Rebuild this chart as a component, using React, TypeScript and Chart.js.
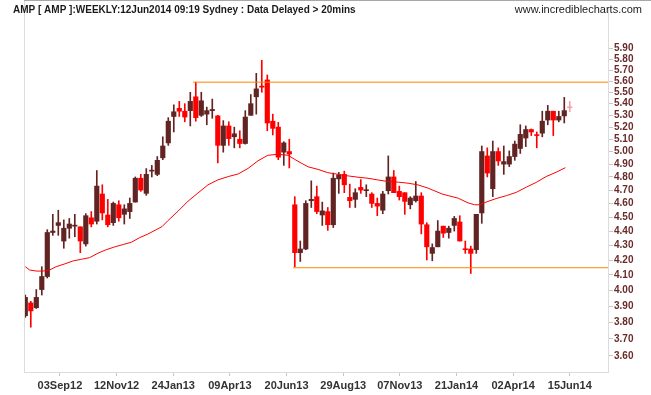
import React, { useEffect, useRef } from "react";
import { Chart, registerables } from "chart.js";
Chart.register(...registerables);

const TITLE = "AMP [ AMP ]:WEEKLY:12Jun2014 09:19 Sydney : Data Delayed > 20mins";
const SITE = "www.incrediblecharts.com";

const opens = [3.84, 3.92, 3.89, 4.005, 4.09, 4.39, 4.44, 4.33, 4.42, 4.435, 4.43, 4.31, 4.495, 4.47, 4.67, 4.515, 4.46, 4.59, 4.52, 4.54,
  4.61, 4.79, 4.675, 4.845, 4.82, 4.95, 5.07, 5.29, 5.36, 5.335, 5.34, 5.46, 5.30, 5.31, 5.34, 5.295, 5.05, 5.21, 5.12, 5.10,
  5.065, 5.30, 5.46, 5.555, 5.61, 5.25, 5.20, 4.995, 5.00, 4.59, 4.25, 4.275, 4.62, 4.65, 4.515, 4.54, 4.445, 4.785, 4.82, 4.645,
  4.63, 4.72, 4.695, 4.67, 4.60, 4.55, 4.695, 4.80, 4.69, 4.68, 4.59, 4.62, 4.655, 4.445, 4.245, 4.29, 4.435, 4.39, 4.44, 4.465,
  4.275, 4.275, 4.27, 4.53, 4.965, 4.71, 5.00, 4.90, 4.90, 4.96, 5.025, 5.11, 5.18, 5.135, 5.15, 5.26, 5.335, 5.26, 5.295, 5.37];
const highs = [3.97, 3.93, 4.005, 4.155, 4.41, 4.52, 4.55, 4.48, 4.49, 4.52, 4.43, 4.525, 4.54, 4.85, 4.74, 4.63, 4.61, 4.62, 4.59, 4.64,
  4.80, 4.82, 4.865, 4.89, 4.96, 5.12, 5.28, 5.39, 5.42, 5.40, 5.50, 5.59, 5.50, 5.37, 5.44, 5.30, 5.255, 5.245, 5.20, 5.17,
  5.34, 5.48, 5.67, 5.79, 5.655, 5.31, 5.24, 5.08, 5.10, 4.65, 4.33, 4.62, 4.77, 4.73, 4.61, 4.57, 4.83, 4.835, 4.845, 4.745,
  4.71, 4.78, 4.74, 4.68, 4.64, 4.69, 4.965, 4.85, 4.73, 4.68, 4.65, 4.765, 4.68, 4.46, 4.31, 4.475, 4.435, 4.435, 4.505, 4.51,
  4.33, 4.295, 4.52, 5.045, 5.03, 5.085, 5.03, 5.045, 5.005, 5.085, 5.22, 5.21, 5.185, 5.16, 5.335, 5.385, 5.335, 5.335, 5.455, 5.42];
const lows = [3.83, 3.77, 3.885, 3.97, 4.08, 4.37, 4.37, 4.28, 4.35, 4.36, 4.25, 4.295, 4.43, 4.45, 4.48, 4.43, 4.44, 4.47, 4.45, 4.49,
  4.61, 4.69, 4.66, 4.80, 4.81, 4.935, 5.05, 5.16, 5.29, 5.245, 5.21, 5.25, 5.29, 5.22, 5.275, 4.91, 4.995, 5.05, 5.03, 5.03,
  5.06, 5.30, 5.31, 5.50, 5.17, 5.135, 4.935, 4.89, 4.87, 4.155, 4.19, 4.27, 4.57, 4.525, 4.44, 4.405, 4.425, 4.675, 4.68, 4.57,
  4.57, 4.675, 4.65, 4.57, 4.51, 4.525, 4.67, 4.68, 4.625, 4.52, 4.56, 4.61, 4.38, 4.20, 4.195, 4.29, 4.355, 4.35, 4.40, 4.33,
  4.245, 4.11, 4.245, 4.455, 4.80, 4.65, 4.89, 4.82, 4.88, 4.93, 4.985, 5.04, 5.13, 5.03, 5.12, 5.22, 5.13, 5.245, 5.235, 5.33];
const closes = [3.955, 3.87, 3.955, 4.09, 4.39, 4.40, 4.46, 4.42, 4.45, 4.44, 4.33, 4.51, 4.45, 4.73, 4.53, 4.445, 4.60, 4.495, 4.56, 4.60,
  4.79, 4.70, 4.82, 4.85, 4.93, 5.045, 5.25, 5.33, 5.335, 5.285, 5.42, 5.28, 5.425, 5.34, 5.35, 5.05, 5.21, 5.105, 5.145, 5.065,
  5.285, 5.40, 5.53, 5.545, 5.235, 5.19, 4.955, 5.07, 4.98, 4.25, 4.275, 4.60, 4.63, 4.54, 4.545, 4.445, 4.79, 4.815, 4.74, 4.62,
  4.68, 4.70, 4.70, 4.60, 4.58, 4.67, 4.80, 4.68, 4.65, 4.615, 4.64, 4.655, 4.45, 4.29, 4.285, 4.40, 4.385, 4.42, 4.49, 4.33,
  4.27, 4.245, 4.52, 5.00, 4.83, 5.00, 4.925, 4.92, 4.96, 5.06, 5.14, 5.18, 5.16, 5.13, 5.25, 5.335, 5.26, 5.29, 5.34, 5.365];

// moving average at (week index, value)
const maIdx = [0, 0.8, 2, 3.2, 4.4, 5.6, 7.2, 8.7, 10.2, 11.7, 13.2, 14.7, 16.3, 17.8, 19.3, 20.8, 22.3, 23.8, 24.9, 25.9,
  27.8, 29.6, 31.4, 33.2, 35.0, 36.9, 38.7, 40.5, 42.3, 44.1, 45.9, 47.8, 49.0, 50.3, 51.4, 53.2, 55.0, 56.9, 58.7, 60.5,
  62.3, 64.1, 65.9, 67.8, 69.6, 71.4, 73.2, 75.8, 76.9, 78.7, 80.5, 81.7, 82.6, 83.8, 85.6, 87.5, 89.3, 91.1, 92.9, 94.7, 96.5, 98.2];
const maVal = [4.155, 4.133, 4.126, 4.126, 4.133, 4.155, 4.174, 4.194, 4.205, 4.216, 4.246, 4.270, 4.290, 4.306, 4.322, 4.354, 4.379, 4.410, 4.433, 4.473,
  4.544, 4.617, 4.678, 4.739, 4.777, 4.803, 4.823, 4.866, 4.926, 4.970, 4.978, 4.970, 4.937, 4.905, 4.879, 4.859, 4.833, 4.820, 4.808, 4.798,
  4.790, 4.777, 4.765, 4.760, 4.752, 4.739, 4.715, 4.670, 4.658, 4.639, 4.604, 4.590, 4.590, 4.610, 4.636, 4.658, 4.683, 4.722, 4.758, 4.803, 4.836, 4.872];

const tickIdx = [6.3, 16.6, 26.9, 37.2, 47.5, 57.8, 68.1, 78.4, 88.7, 99];
const tickLabels = ["03Sep12", "12Nov12", "24Jan13", "09Apr13", "20Jun13", "29Aug13", "07Nov13", "21Jan14", "02Apr14", "15Jun14"];
const yTicks = [3.6, 3.7, 3.8, 3.9, 4.0, 4.1, 4.2, 4.3, 4.4, 4.5, 4.6, 4.7, 4.8, 4.9, 5.0, 5.1, 5.2, 5.3, 5.4, 5.5, 5.6, 5.7, 5.8, 5.9];

const resistance = 5.59;
const resistanceStart = 30.5;
const support = 4.148;
const supportStart = 48.7;

const X_MIN = -0.236;
const X_MAX = 105.95;
const Y_MIN = 3.508;
const Y_MAX = 6.308;

const UP = "#622323";
const DOWN = "#ff0000";
const CURRENT = "#f5a3aa";

export default function App() {
  const ref = useRef<HTMLCanvasElement | null>(null);
  useEffect(() => {
    const n = opens.length;
    const colors = opens.map((o, i) => (i === n - 1 ? CURRENT : closes[i] >= o ? UP : DOWN));
    const framePlugin = {
      id: "frame",
      afterDraw(chart: any) {
        const { ctx, chartArea } = chart;
        ctx.save();
        ctx.strokeStyle = "#dcdcdc";
        ctx.lineWidth = 1;
        ctx.beginPath();
        ctx.moveTo(chartArea.left + 0.5, 0);
        ctx.lineTo(chartArea.left + 0.5, chartArea.bottom);
        ctx.stroke();
        ctx.strokeStyle = "#a8a8a8";
        ctx.beginPath();
        ctx.moveTo(chartArea.left, 0.5);
        ctx.lineTo(chart.width, 0.5);
        ctx.stroke();
        ctx.fillStyle = "#1a1a1a";
        ctx.font = "bold 10px Arial, 'Liberation Sans', sans-serif";
        ctx.textBaseline = "middle";
        ctx.textAlign = "left";
        ctx.fillText(TITLE, 13, 10.5);
        ctx.font = "11px Arial, 'Liberation Sans', sans-serif";
        ctx.textAlign = "right";
        ctx.fillText(SITE, 642, 10);
        ctx.restore();
      },
    };
    const chart = new Chart(ref.current as HTMLCanvasElement, {
      type: "bar",
      data: {
        datasets: [
          {
            type: "line",
            data: maIdx.map((x, i) => ({ x, y: maVal[i] })),
            borderColor: "#ff0000",
            borderWidth: 1,
            pointRadius: 0,
            tension: 0,
            order: 0,
          } as any,
          {
            type: "line",
            data: [{ x: resistanceStart, y: resistance }, { x: X_MAX, y: resistance }],
            borderColor: "#ff8400",
            borderWidth: 1,
            pointRadius: 0,
            order: 0,
          } as any,
          {
            type: "line",
            data: [{ x: supportStart, y: support }, { x: X_MAX, y: support }],
            borderColor: "#ff8400",
            borderWidth: 1,
            pointRadius: 0,
            order: 0,
          } as any,
          {
            type: "bar",
            data: opens.map((o, i) => ({ x: i, y: [o, closes[i]] })),
            backgroundColor: colors,
            borderWidth: 0,
            barThickness: 4.5,
            minBarLength: 1,
            grouped: false,
            order: 1,
          } as any,
          {
            type: "bar",
            data: opens.map((_, i) => ({ x: i, y: [lows[i], highs[i]] })),
            backgroundColor: colors,
            borderWidth: 0,
            barThickness: 1,
            grouped: false,
            order: 2,
          } as any,
        ],
      },
      options: {
        animation: false,
        responsive: false,
        maintainAspectRatio: false,
        layout: { padding: { left: 24, top: 1, right: 0, bottom: 0 } },
        plugins: { legend: { display: false }, tooltip: { enabled: false }, title: { display: false } },
        scales: {
          x: {
            type: "linear",
            min: X_MIN,
            max: X_MAX,
            offset: false,
            grid: { offset: false, drawOnChartArea: false, drawTicks: true, tickLength: 4, color: "#c8c8c8" },
            border: { display: true, color: "#dcdcdc" },
            afterBuildTicks: (s: any) => {
              s.ticks = tickIdx.map((v) => ({ value: v }));
            },
            afterFit: (s: any) => {
              s.height = 23;
            },
            ticks: {
              autoSkip: false,
              maxRotation: 0,
              padding: 3,
              color: "#333333",
              font: { family: "Arial, 'Liberation Sans', sans-serif", size: 11, weight: "bold" },
              callback: (_v: any, i: number) => tickLabels[i],
            },
          },
          y: {
            type: "logarithmic",
            position: "right",
            min: Y_MIN,
            max: Y_MAX,
            grid: { drawOnChartArea: false, drawTicks: true, tickLength: 5, color: "#c8c8c8" },
            border: { display: true, color: "#dcdcdc" },
            afterBuildTicks: (s: any) => {
              s.ticks = yTicks.map((v) => ({ value: v }));
            },
            afterFit: (s: any) => {
              s.width = 43;
            },
            ticks: {
              autoSkip: false,
              padding: 1,
              color: "#6b2a2a",
              font: { family: "Arial, 'Liberation Sans', sans-serif", size: 10, weight: "bold" },
              callback: (v: any) => Number(v).toFixed(2),
            },
          },
        },
      } as any,
      plugins: [framePlugin],
    });
    return () => chart.destroy();
  }, []);
  return (
    <div style={{ position: "fixed", left: 0, top: 0, width: 651, height: 395, background: "#fff" }}>
      <canvas ref={ref} width={651} height={395} style={{ display: "block", width: 651, height: 395 }} />
    </div>
  );
}
